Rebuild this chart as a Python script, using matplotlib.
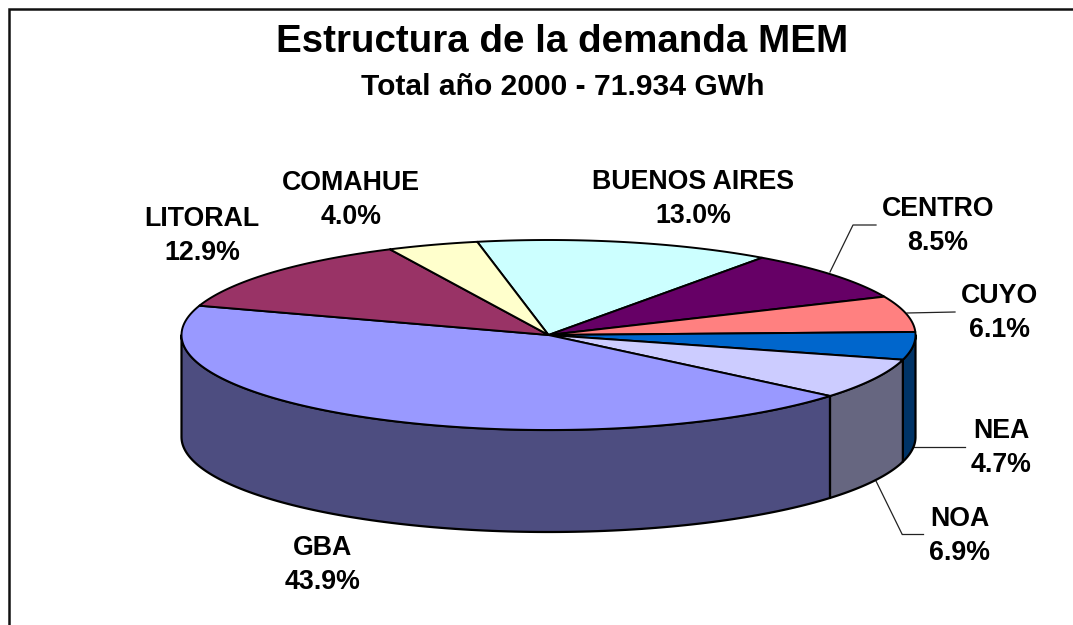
import numpy as np
import matplotlib
matplotlib.use("Agg")
import matplotlib.pyplot as plt
from matplotlib.patches import Polygon

plt.rcParams['font.family'] = ['Liberation Sans', 'DejaVu Sans']

regiones = ["BUENOS AIRES", "CENTRO", "CUYO", "NEA", "NOA", "GBA", "LITORAL", "COMAHUE"]
valores = [13.0, 8.5, 6.1, 4.7, 6.9, 43.9, 12.9, 4.0]
colores = ["#CCFFFF", "#660066", "#FF8080", "#0066CC", "#CCCCFF", "#9999FF", "#993366", "#FFFFCC"]
lados = ["#668080", "#330033", "#804040", "#003366", "#666680", "#4D4D80", "#4D1A33", "#808066"]

titulo = "Estructura de la demanda MEM"
subtitulo = "Total año 2000 - 71.934 GWh"

# centro de cada etiqueta en pixeles
pos_etiquetas = [(693, 199), (938, 226), (999, 313), (1001, 448), (960, 536), (323, 565), (202, 236), (351, 200)]

# lineas guia (pixeles)
guias = [
    [(830, 272), (853, 225), (876, 225)],
    [(907, 313), (955, 312)],
    [(914, 447), (965, 447)],
    [(876, 481), (902, 534)],
    [(902, 534), (923, 534)],
]

cx, cy = 548.5, 335
rx, ry = 367, 95
alto = 102
inicio = 101.2


def arco(a1, a2, dy=0):
    t = np.radians(np.linspace(a1, a2, 120))
    return np.column_stack([cx + rx * np.cos(t), cy - ry * np.sin(t) + dy])


fig = plt.figure(figsize=(10.73, 6.25), dpi=100)
ax = fig.add_axes([0, 0, 1, 1])
ax.set_xlim(0, 1073)
ax.set_ylim(625, 0)
ax.axis("off")

# marco del grafico
ax.plot([9, 9, 1073], [625, 8.5, 8.5], color="#111111", lw=1.8, solid_joinstyle="miter")

angulos = inicio - np.cumsum([0] + valores) * 3.6

# paredes: solo la parte del frente (angulos entre -180 y 0)
for i in range(len(valores)):
    a1, a2 = angulos[i], angulos[i + 1]
    for desp in (0, -360):
        b1 = min(a1 + desp, 0)
        b2 = max(a2 + desp, -180)
        if b1 > b2:
            sup = arco(b1, b2)
            inf = arco(b2, b1, alto)
            ax.add_patch(Polygon(np.vstack([sup, inf]), closed=True, facecolor=lados[i],
                                 edgecolor="black", lw=1.6, joinstyle="round", zorder=2))

# tapa
for i in range(len(valores)):
    pts = np.vstack([[(cx, cy)], arco(angulos[i], angulos[i + 1])])
    ax.add_patch(Polygon(pts, closed=True, facecolor=colores[i], edgecolor="black",
                         lw=1.4, joinstyle="round", zorder=3))

for g in guias:
    xs, ys = zip(*g)
    ax.plot(xs, ys, color="#222222", lw=0.9, zorder=1)

ax.text(562.5, 42, titulo, fontsize=27.7, fontweight="bold", ha="center", va="center", color="black")
ax.text(562.5, 87, subtitulo, fontsize=21.6, fontweight="bold", ha="center", va="center", color="black")

for nombre, v, p in zip(regiones, valores, pos_etiquetas):
    ax.text(p[0], p[1], f"{nombre}\n{v:.1f}%", fontsize=19.3, fontweight="bold",
            ha="center", va="center", linespacing=1.44, color="black", zorder=5)

fig.savefig("out.png", dpi=100, facecolor="white")
